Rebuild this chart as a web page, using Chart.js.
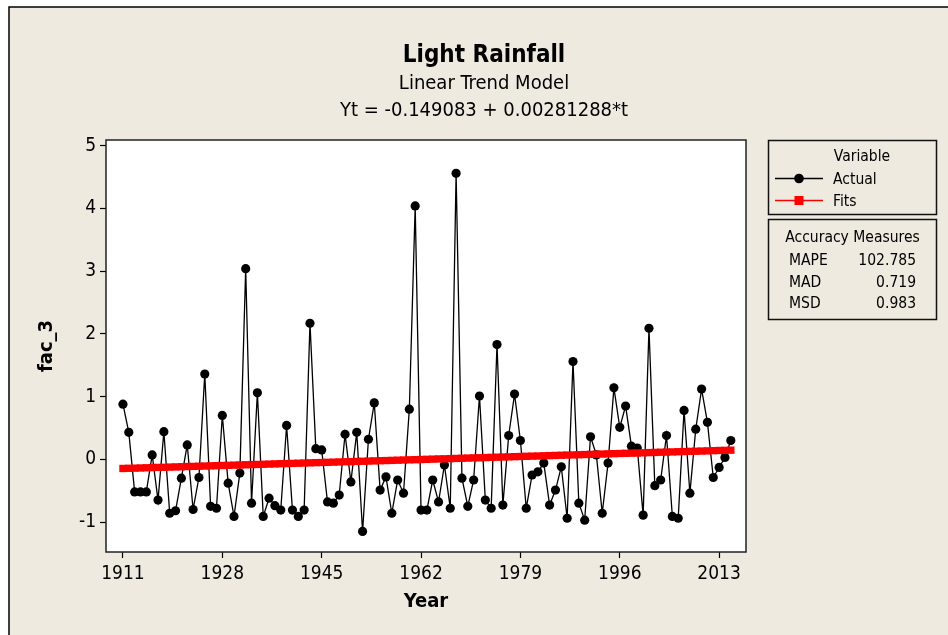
<!DOCTYPE html>
<html>
<head>
<meta charset="utf-8">
<script src="https://cdn.jsdelivr.net/npm/chart.js@4.4.1/dist/chart.umd.min.js"></script>
<style>
  html, body { margin: 0; padding: 0; background: #fff; }
  #wrap { width: 948px; height: 635px; }
</style>
</head>
<body>
<div id="wrap"><canvas id="chart-light-rainfall" width="948" height="635"></canvas></div>
<script>
// data
const firstYear = 1911;
const lastYear = 2015;
const years = Array.from({length: lastYear - firstYear + 1}, (_, i) => firstYear + i);

const actual = [
   0.88,  0.43, -0.52, -0.52, -0.52,  0.07, -0.65,  0.44, -0.86, -0.82,
  -0.30,  0.23, -0.80, -0.29,  1.36, -0.75, -0.78,  0.70, -0.38, -0.91,
  -0.22,  3.04, -0.70,  1.06, -0.91, -0.62, -0.74, -0.81,  0.54, -0.81,
  -0.91, -0.81,  2.17,  0.17,  0.15, -0.68, -0.70, -0.57,  0.40, -0.36,
   0.43, -1.15,  0.32,  0.90, -0.49, -0.28, -0.86, -0.33, -0.54,  0.80,
   4.04, -0.81, -0.81, -0.33, -0.68, -0.09, -0.78,  4.56, -0.30, -0.75,
  -0.33,  1.01, -0.65, -0.78,  1.83, -0.73,  0.38,  1.04,  0.30, -0.78,
  -0.25, -0.20, -0.06, -0.73, -0.49, -0.12, -0.94,  1.56, -0.70, -0.97,
   0.36,  0.07, -0.86, -0.06,  1.14,  0.51,  0.85,  0.21,  0.18, -0.89,
   2.09, -0.42, -0.33,  0.38, -0.91, -0.94,  0.78, -0.54,  0.48,  1.12,
   0.59, -0.29, -0.13,  0.03,  0.30
];

// fitted trend values (Yt = -0.149083 + 0.00281288*t), one per year
const fits = [
  -0.146, -0.143, -0.141, -0.138, -0.135, -0.132, -0.129, -0.127, -0.124, -0.121,
  -0.118, -0.115, -0.113, -0.110, -0.107, -0.104, -0.101, -0.098, -0.096, -0.093,
  -0.090, -0.087, -0.084, -0.082, -0.079, -0.076, -0.073, -0.070, -0.068, -0.065,
  -0.062, -0.059, -0.056, -0.053, -0.051, -0.048, -0.045, -0.042, -0.039, -0.037,
  -0.034, -0.031, -0.028, -0.025, -0.022, -0.020, -0.017, -0.014, -0.011, -0.008,
  -0.006, -0.003,  0.000,  0.003,  0.006,  0.008,  0.011,  0.014,  0.017,  0.020,
   0.023,  0.025,  0.028,  0.031,  0.034,  0.037,  0.039,  0.042,  0.045,  0.048,
   0.051,  0.053,  0.056,  0.059,  0.062,  0.065,  0.068,  0.070,  0.073,  0.076,
   0.079,  0.082,  0.084,  0.087,  0.090,  0.093,  0.096,  0.098,  0.101,  0.104,
   0.107,  0.110,  0.113,  0.115,  0.118,  0.121,  0.124,  0.127,  0.129,  0.132,
   0.135,  0.138,  0.141,  0.143,  0.146
];

const xTicks = [1911, 1928, 1945, 1962, 1979, 1996, 2013];
const yTicks = [-1, 0, 1, 2, 3, 4, 5];

const titleText = 'Light Rainfall';
const subtitleLines = ['Linear Trend Model', 'Yt = -0.149083 + 0.00281288*t'];
const legendTitle = 'Variable';
const seriesNames = ['Actual', 'Fits'];
const accuracyTitle = 'Accuracy Measures';
const accuracyLabels = ['MAPE', 'MAD', 'MSD'];
const accuracyValues = ['102.785', '0.719', '0.983'];

const FONT = '"DejaVu Sans Condensed", "DejaVu Sans", sans-serif';
const BG = '#eeeae0';

// background, frame, titles and the two boxes on the right
const minitabPlugin = {
    id: 'minitabFrame',
    beforeDraw(chart) {
        const {ctx, width, height, chartArea: a} = chart;
        ctx.save();
        ctx.fillStyle = '#ffffff';
        ctx.fillRect(0, 0, width, height);
        ctx.fillStyle = BG;
        ctx.fillRect(9, 7, width - 9, height - 7);
        ctx.strokeStyle = '#000';
        ctx.lineWidth = 1.5;
        ctx.beginPath();
        ctx.moveTo(9, height);
        ctx.lineTo(9, 7);
        ctx.lineTo(width, 7);
        ctx.stroke();
        ctx.fillStyle = '#ffffff';
        ctx.fillRect(a.left, a.top, a.right - a.left, a.bottom - a.top);
        ctx.restore();
    },
    afterDraw(chart) {
        const {ctx, chartArea: a} = chart;
        ctx.save();
        // plot border
        ctx.strokeStyle = '#222';
        ctx.lineWidth = 1.5;
        ctx.strokeRect(a.left, a.top, a.right - a.left, a.bottom - a.top);

        // titles
        ctx.fillStyle = '#000';
        ctx.textAlign = 'center';
        ctx.textBaseline = 'alphabetic';
        ctx.font = `bold 24px ${FONT}`;
        ctx.fillText(titleText, 484, 61.5);
        ctx.font = `20px ${FONT}`;
        ctx.fillText(subtitleLines[0], 484, 89);
        ctx.fillText(subtitleLines[1], 484, 116);

        // legend box
        ctx.lineWidth = 1.5;
        ctx.strokeStyle = '#111';
        ctx.strokeRect(768.5, 140.5, 168, 74);
        ctx.font = `15.5px ${FONT}`;
        ctx.fillText(legendTitle, 862, 160.5);
        ctx.textAlign = 'left';
        ctx.fillText(seriesNames[0], 833, 184);
        ctx.fillText(seriesNames[1], 833, 206);

        ctx.lineWidth = 1.3;
        ctx.strokeStyle = '#000';
        ctx.beginPath();
        ctx.moveTo(775, 178.5);
        ctx.lineTo(823, 178.5);
        ctx.stroke();
        ctx.fillStyle = '#000';
        ctx.beginPath();
        ctx.arc(799, 178.5, 4.8, 0, Math.PI * 2);
        ctx.fill();

        ctx.strokeStyle = '#ff0000';
        ctx.beginPath();
        ctx.moveTo(775, 200.5);
        ctx.lineTo(823, 200.5);
        ctx.stroke();
        ctx.fillStyle = '#ff0000';
        ctx.fillRect(794.5, 196, 9, 9);

        // accuracy measures box
        ctx.strokeStyle = '#111';
        ctx.lineWidth = 1.5;
        ctx.strokeRect(768.5, 219.5, 168, 100);
        ctx.fillStyle = '#000';
        ctx.textAlign = 'center';
        ctx.fillText(accuracyTitle, 852.5, 242);
        const rows = [264.5, 286.5, 308];
        accuracyLabels.forEach((lbl, i) => {
            ctx.textAlign = 'left';
            ctx.fillText(lbl, 789, rows[i]);
            ctx.textAlign = 'right';
            ctx.fillText(accuracyValues[i], 916, rows[i]);
        });
        ctx.restore();
    }
};

const ctx = document.getElementById('chart-light-rainfall').getContext('2d');

new Chart(ctx, {
    type: 'line',
    data: {
        datasets: [{
            label: seriesNames[0],
            data: years.map((y, i) => ({x: y, y: actual[i]})),
            borderColor: '#000',
            backgroundColor: '#000',
            borderWidth: 1.3,
            pointRadius: 4.6,
            pointBorderWidth: 0,
            pointHoverRadius: 4.6,
            tension: 0,
            order: 1
        }, {
            label: seriesNames[1],
            data: years.map((y, i) => ({x: y, y: fits[i]})),
            borderColor: '#ff0000',
            backgroundColor: '#ff0000',
            borderWidth: 1,
            pointStyle: 'rect',
            pointRadius: 5.2,
            pointBorderWidth: 0,
            pointHoverRadius: 5.2,
            tension: 0,
            order: 0
        }]
    },
    options: {
        responsive: false,
        animation: false,
        devicePixelRatio: 1,
        layout: { padding: { left: 20, top: 140, right: 202, bottom: 0 } },
        plugins: {
            legend: { display: false },
            title: { display: false },
            tooltip: { enabled: false }
        },
        scales: {
            x: {
                type: 'linear',
                min: 1908.1,
                max: 2017.6,
                afterBuildTicks: (scale) => { scale.ticks = xTicks.map(v => ({value: v})); },
                afterFit: (scale) => { scale.height = 83; },
                ticks: {
                    color: '#000',
                    padding: 5,
                    maxRotation: 0,
                    autoSkip: false,
                    font: { family: FONT, size: 19 },
                    callback: (v) => String(v)
                },
                grid: { drawOnChartArea: false, tickLength: 6, tickColor: '#000', tickWidth: 1.2 },
                border: { display: false },
                title: {
                    display: true,
                    text: 'Year',
                    color: '#000',
                    font: { family: FONT, size: 20, weight: 'bold' },
                    padding: { top: 0, bottom: 21 }
                }
            },
            y: {
                min: -1.478,
                max: 5.092,
                afterBuildTicks: (scale) => { scale.ticks = yTicks.map(v => ({value: v})); },
                afterFit: (scale) => { scale.width = 86; },
                ticks: {
                    color: '#000',
                    padding: 4,
                    font: { family: FONT, size: 19 },
                    callback: (v) => String(v)
                },
                grid: { drawOnChartArea: false, tickLength: 6, tickColor: '#000', tickWidth: 1.2 },
                border: { display: false },
                title: {
                    display: true,
                    text: 'fac_3',
                    color: '#000',
                    font: { family: FONT, size: 20, weight: 'bold' },
                    padding: { top: 15, bottom: 0 }
                }
            }
        }
    },
    plugins: [minitabPlugin]
});
</script>
</body>
</html>
